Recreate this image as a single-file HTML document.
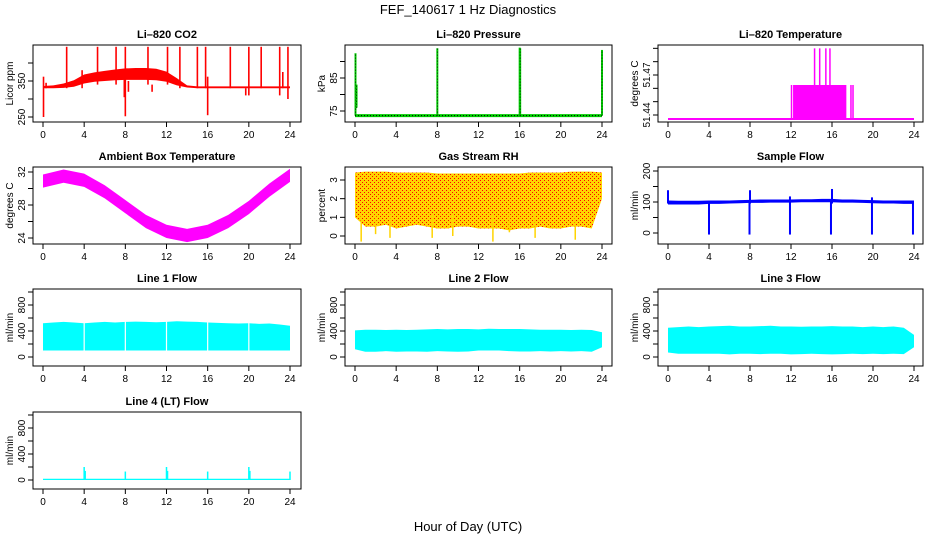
<!DOCTYPE html>
<html><head><meta charset="utf-8"><style>
html,body{margin:0;padding:0;background:#fff}
svg{display:block;font-family:"Liberation Sans",sans-serif}
</style></head><body>
<svg id="fig" width="936" height="540" viewBox="0 0 936 540" xmlns="http://www.w3.org/2000/svg">
<defs>
<pattern id="rhpat" width="4" height="4" patternUnits="userSpaceOnUse">
<rect width="4" height="4" fill="#ffd400"/>
<rect x="0" y="0" width="1" height="1" fill="#f00"/>
<rect x="2" y="2" width="1" height="1" fill="#f00"/>
</pattern>
</defs>
<text x="468" y="14" text-anchor="middle" font-size="13">FEF_140617  1 Hz Diagnostics</text>
<text x="468" y="531" text-anchor="middle" font-size="13">Hour of Day (UTC)</text>
</svg>
<script>
// ---------- data ----------
const xTicks = [0,4,8,12,16,20,24];
const hours = [0,1,2,3,4,5,6,7,8,9,10,11,12,13,14,15,16,17,18,19,20,21,22,23,24];
const co2Lo = [330,330,331,334,343,348,350,352,353,353,353,352,348,338,332,330,330,330,330,330,330,330,330,330,330];
const co2Hi = [336,338,343,352,368,374,378,382,385,386,386,384,376,358,338,335,335,335,335,335,335,335,335,335,335];
const co2Spikes = [[0.05,250,362],[0.3,330,345],[2.3,330,445],[3.8,330,380],[5.3,340,445],[7.1,340,445],[7.9,305,360],[8.0,252,445],[8.3,320,350],[10.2,340,445],[10.6,320,340],[12.1,340,445],[13.3,330,445],[15.0,330,445],[15.8,330,445],[16.0,255,362],[18.2,330,445],[19.7,310,330],[20.0,310,445],[21.2,330,445],[23.0,310,445],[23.3,330,375],[23.8,300,445]];
const presBase = 73.6;
const presSpikes = [[0.05,73.6,92.5],[0.15,76,83],[8.0,73.6,94],[16.0,73.6,94.2],[16.05,73.6,94],[24.0,73.6,93.5]];
const tempBase = 51.437;
const tempBlock = [[12.2,17.4,51.4625]];
const tempLines = [[12.05,51.4625],[12.4,51.4625],[17.85,51.4625],[18.05,51.4625],[14.3,51.49],[14.8,51.49],[15.4,51.49],[15.8,51.49]];
const ambHours = [0,2,4,6,8,10,12,14,16,18,20,22,24];
const ambMid = [30.9,31.5,31.0,29.6,27.8,26.0,24.8,24.3,24.8,26.0,27.7,29.8,31.6];
const ambHalfWidth = [0.8,0.8,0.8,0.8,0.8,0.8,0.8,0.8,0.8,0.8,0.8,0.8,0.8];
const rhLo = [1.0,0.5,0.5,0.6,0.4,0.5,0.6,0.5,0.4,0.4,0.5,0.5,0.4,0.4,0.4,0.3,0.4,0.4,0.5,0.4,0.4,0.5,0.5,0.4,2.0];
const rhHi = [3.4,3.45,3.45,3.45,3.4,3.4,3.4,3.4,3.35,3.35,3.35,3.35,3.35,3.35,3.35,3.35,3.35,3.4,3.4,3.4,3.4,3.45,3.45,3.45,3.4];
const rhDips = [[0.6,-0.3],[3.4,-0.1],[7.5,-0.1],[13.4,-0.3],[17.5,-0.1],[21.4,-0.2],[2.0,0.1],[9.5,0.0],[15.0,0.2]];
const sfLo = [92,92,92,92,94,94,95,96,97,97,98,98,98,99,99,99,99,98,98,97,96,95,95,94,94];
const sfHi = [105,104,104,104,105,105,105,106,107,108,108,108,108,109,109,110,110,108,108,107,106,105,105,105,105];
const sfSpikes = [[0.0,95,138],[4.0,-5,100],[7.95,-5,100],[8.0,95,138],[11.9,-5,118],[15.9,-5,100],[16.0,95,142],[19.9,-5,115],[23.9,-5,100]];
const l1Lo = [100,100,100,100,100,100,100,100,100,100,100,100,100,100,100,100,100,100,100,100,100,100,100,100,100];
const l1Hi = [520,530,540,530,520,530,540,530,540,545,540,535,540,550,545,540,530,525,520,515,520,510,515,500,480];
const l1Gaps = [4,8,12,16,20];
const l2Lo = [120,80,80,90,80,85,85,80,90,85,80,85,100,100,100,90,85,85,90,85,90,85,90,80,150];
const l2Hi = [410,420,420,415,420,415,420,425,430,425,430,430,425,435,430,430,430,425,420,420,420,415,420,415,380];
const l3Lo = [70,50,50,50,50,50,40,50,50,45,50,50,40,45,50,45,40,45,50,45,50,45,50,45,150];
const l3Hi = [450,460,470,460,470,475,480,470,470,475,480,470,470,465,470,470,475,470,470,460,470,460,470,450,340];
const l4Base = [0,20];
const l4Spikes = [[4.0,200],[4.1,140],[8.0,130],[12.0,200],[12.1,140],[16.0,130],[20.0,200],[20.1,140],[24.0,130]];

// ---------- layout ----------
const NS = "http://www.w3.org/2000/svg";
const svg = document.getElementById('fig');
const colBox = [[33,301],[345,612],[658,923]];
const colX0 = [43,355,668], colX24 = [290,602,914];
const rowBox = [[45,122],[167,244],[289,366],[412,489]];

function mk(tag, attrs, parent){
  const e = document.createElementNS(NS, tag);
  for (const k in attrs) e.setAttribute(k, attrs[k]);
  (parent||svg).appendChild(e);
  return e;
}
function panel(name, title, ylab, col, row, vA, yA, vB, yB, yTicks, yLabels){
  const g = mk('g', {});
  
  
  const [bl, br] = colBox[col], [bt, bb] = rowBox[row];
  const x = h => colX0[col] + (colX24[col]-colX0[col]) * h / 24;
  const y = v => yA + (v - vA) * (yB - yA) / (vB - vA);
  const t = mk('text', {x:(bl+br)/2, y:bt-7, 'text-anchor':'middle', 'font-size':'11', 'font-weight':'bold'}, g);
  t.textContent = title;
  
  
  const plot = mk('g', {}, g);
  
  
  const axes = () => {
    const box = mk('rect', {x:bl, y:bt, width:br-bl, height:bb-bt, fill:'none', stroke:'#000', 'stroke-width':'1'}, g);
    
    
    const xa = mk('g', {}, g);
    
    
    mk('line', {x1:x(0), x2:x(24), y1:bb, y2:bb, stroke:'#000'}, xa);
    xTicks.forEach(h => {
      mk('line', {x1:x(h), x2:x(h), y1:bb, y2:bb+5, stroke:'#000'}, xa);
      const tl = mk('text', {x:x(h), y:bb+16, 'text-anchor':'middle', 'font-size':'10'}, xa);
      tl.textContent = h;
    });
    const ya = mk('g', {}, g);
    
    
    mk('line', {x1:bl, x2:bl, y1:y(yTicks[0]), y2:y(yTicks[yTicks.length-1]), stroke:'#000'}, ya);
    yTicks.forEach(v => {
      mk('line', {x1:bl-5, x2:bl, y1:y(v), y2:y(v), stroke:'#000'}, ya);
    });
    yLabels.forEach(v => {
      const yy = y(v);
      const tl = mk('text', {x:bl-8, y:yy, 'text-anchor':'middle', 'font-size':'10', transform:`rotate(-90 ${bl-8} ${yy})`}, ya);
      tl.textContent = v;
    });
    const yl = mk('text', {x:bl-20, y:(bt+bb)/2, 'text-anchor':'middle', 'font-size':'10', transform:`rotate(-90 ${bl-20} ${(bt+bb)/2})`}, g);
    yl.textContent = ylab;
    
    
  };
  return {x, y, plot, axes};
}
function band(p, xs, lo, hi, fill){
  let d = 'M' + xs.map((h,i)=>p.x(h)+','+p.y(hi[i])).join(' L');
  d += ' L' + xs.map((h,i)=>[h,i]).reverse().map(([h,i])=>p.x(h)+','+p.y(lo[i])).join(' L') + ' Z';
  const e = mk('path', {d, fill, stroke:'none'}, p.plot);
  
  
}
function vline(p, h, a, b, color, w, dash){
  const e = mk('line', {x1:p.x(h), x2:p.x(h), y1:p.y(a), y2:p.y(b), stroke:color, 'stroke-width':w||1.5}, p.plot);
  if (dash) e.setAttribute('stroke-dasharray', dash);
  
  
}
function hline(p, h1, h2, v, color, w, dash){
  const e = mk('line', {x1:p.x(h1), x2:p.x(h2), y1:p.y(v), y2:p.y(v), stroke:color, 'stroke-width':w||2}, p.plot);
  if (dash) e.setAttribute('stroke-dasharray', dash);
  
  
}

// CO2
let p = panel('co2-panel','Li–820 CO2','Licor ppm',0,0,250,117,350,81,[250,300,350,400],[250,350]);
band(p, hours, co2Lo, co2Hi, '#f00');
co2Spikes.forEach(s => vline(p, s[0], s[1], s[2], '#f00', 1.6));
p.axes();

// Pressure
p = panel('pressure-panel','Li–820 Pressure','kPa',1,0,75,111,85,78,[75,80,85,90],[75,85]);
hline(p, 0, 24, presBase, '#0c0', 3);
hline(p, 0, 24, presBase, '#000', 1, '1,2');
presSpikes.forEach(s => { vline(p, s[0], s[1], s[2], '#0c0', 2); vline(p, s[0], s[1], s[2], '#000', 0.8, '1,2'); });
p.axes();

// Temperature
p = panel('temperature-panel','Li–820 Temperature','degrees C',2,0,51.44,115,51.47,75,[51.44,51.45,51.46,51.47,51.48,51.49],[51.44,51.47]);
hline(p, 0, 24, tempBase, '#f0f', 2);
tempBlock.forEach(b => {
  const e = mk('rect', {x:p.x(b[0]), y:p.y(b[2]), width:p.x(b[1])-p.x(b[0]), height:p.y(tempBase)-p.y(b[2]), fill:'#f0f'}, p.plot);
  
  
});
tempLines.forEach(s => vline(p, s[0], tempBase, s[1], '#f0f', 1.5));
p.axes();

// Ambient
p = panel('ambient-temp-panel','Ambient Box Temperature','degrees C',0,1,24,238,32,172,[24,26,28,30,32],[24,28,32]);
band(p, ambHours, ambMid.map((m,i)=>m-ambHalfWidth[i]), ambMid.map((m,i)=>m+ambHalfWidth[i]), '#f0f');
p.axes();

// RH
p = panel('rh-panel','Gas Stream RH','percent',1,1,0,236,3,180,[0,1,2,3],[0,1,2,3]);
band(p, hours, rhLo, rhHi, 'url(#rhpat)');
rhDips.forEach(s => vline(p, s[0], s[1], 1.2, '#ffd400', 1.5));
p.axes();

// Sample flow
p = panel('sample-flow-panel','Sample Flow','ml/min',2,1,0,233,200,171,[0,50,100,150,200],[0,100,200]);
band(p, hours, sfLo, sfHi, '#00f');
sfSpikes.forEach(s => vline(p, s[0], s[1], s[2], '#00f', 2));
p.axes();

// Line flows
const lineTicks = [0,200,400,600,800,1000], lineLabels = [0,400,800];
p = panel('line1-flow-panel','Line 1 Flow','ml/min',0,2,0,357,800,305,lineTicks,lineLabels);
band(p, hours, l1Lo, l1Hi, '#0ff');
l1Gaps.forEach(h => vline(p, h, 90, 600, '#fff', 1.2));
p.axes();
p = panel('line2-flow-panel','Line 2 Flow','ml/min',1,2,0,357,800,305,lineTicks,lineLabels);
band(p, hours, l2Lo, l2Hi, '#0ff');
p.axes();
p = panel('line3-flow-panel','Line 3 Flow','ml/min',2,2,0,357,800,305,lineTicks,lineLabels);
band(p, hours, l3Lo, l3Hi, '#0ff');
p.axes();
p = panel('line4-flow-panel','Line 4 (LT) Flow','ml/min',0,3,0,480,800,428,lineTicks,lineLabels);
band(p, [0,24], [l4Base[0],l4Base[0]], [l4Base[1],l4Base[1]], '#0ff');
l4Spikes.forEach(s => vline(p, s[0], 0, s[1], '#0ff', 1.5));
p.axes();
</script>
</body></html>
